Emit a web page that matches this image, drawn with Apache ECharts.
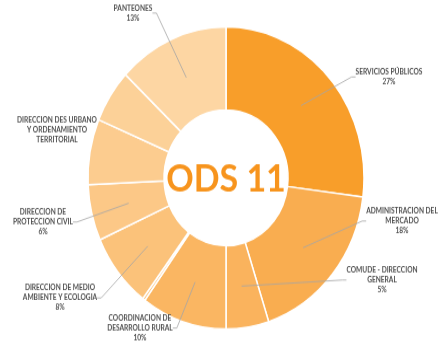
<!DOCTYPE html>
<html>
<head>
<meta charset="utf-8">
<script src="https://cdn.jsdelivr.net/npm/echarts@6/dist/echarts.min.js"></script>
<style>
  html, body { margin: 0; padding: 0; background: #fff; overflow: hidden; }
  #wrap { width: 438px; height: 347px; overflow: hidden; }
  /* chart is drawn a little shorter and stretched vertically into an oval donut */
  #chart { width: 438px; height: 317px; transform: scaleY(1.0946); transform-origin: 0 0; }
</style>
</head>
<body>
<div id="wrap"><div id="chart"></div></div>
<script>
// Share of ODS 11 actions by department (percent)
const categories = [
  'SERVICIOS PÚBLICOS',
  'ADMINISTRACION DEL\nMERCADO',
  'COMUDE - DIRECCION\nGENERAL',
  'COORDINACION DE\nDESARROLLO RURAL',
  'OTRAS ÁREAS',
  'DIRECCION DE MEDIO\nAMBIENTE Y ECOLOGIA',
  'DIRECCION DE\nPROTECCION CIVIL',
  'DIRECCION DES URBANO\nY ORDENAMIENTO\nTERRITORIAL',
  'OTRAS DIRECCIONES',
  'PANTEONES'
];
const values = [27, 18, 5, 10, 0.3, 8, 6, 7, 5.7, 13];
const showPercent = [true, true, true, true, false, true, true, false, false, true];
const showLabel = [true, true, true, true, false, true, true, true, false, true];
const showLeader = [true, true, true, true, false, true, true, false, false, true];

const sliceColors = ['#F89E2A', '#F9AD50', '#FAB35D', '#FAB662', '#FBBF74', '#FBC27A',
                     '#FCC887', '#FCCC8F', '#FCD198', '#FDD6A3'];
// label block anchors (centre x, middle y) in chart pixels
const labelAnchors = [[389, 70.3], [402, 201.9], [382, 255.8], [140, 299.7], null,
                      [60, 272.2], [43, 202.8], [57, 118.8], null, [133, 11.9]];

const CENTER = [226, 162.6];

const ringData = categories.map((name, i) => ({
  name, value: values[i], itemStyle: { color: sliceColors[i] }
}));

const labelData = categories.map((name, i) => ({
  name, value: values[i],
  label: { show: showLabel[i] },
  labelLine: { show: showLeader[i] }
}));

const chart = echarts.init(document.getElementById('chart'), null, { renderer: 'canvas' });
chart.setOption({
  animation: false,
  graphic: [{
    type: 'text',
    x: CENTER[0], y: CENTER[1] + 1,
    z: 100,
    style: {
      text: 'ODS 11',
      fill: '#F7941D',
      font: 'bold 34px Lato',
      textAlign: 'center',
      textVerticalAlign: 'middle'
    }
  }],
  series: [
    {
      type: 'pie',
      silent: true,
      center: CENTER,
      radius: [62, 138],
      startAngle: 90,
      clockwise: true,
      avoidLabelOverlap: false,
      itemStyle: { borderColor: '#ffffff', borderWidth: 1.5 },
      label: { show: false },
      labelLine: { show: false },
      data: ringData
    },
    {
      // transparent inner ring carrying the labels so leader lines reach into the slices
      type: 'pie',
      silent: true,
      z: 5,
      center: CENTER,
      radius: [62, 100],
      startAngle: 90,
      clockwise: true,
      avoidLabelOverlap: false,
      itemStyle: { color: 'rgba(0,0,0,0)', borderWidth: 0 },
      label: {
        position: 'outer',
        alignTo: 'none',
        color: '#4F4F4F',
        fontFamily: 'Lato',
        fontWeight: 'bold',
        fontSize: 6.6,
        lineHeight: 9,
        align: 'center',
        formatter: p => showPercent[p.dataIndex] ? p.name + '\n' + p.value + '%' : p.name
      },
      labelLine: {
        show: true,
        length: 5,
        length2: 4,
        lineStyle: { color: '#A6A6A6', width: 0.8 }
      },
      labelLayout: params => {
        const a = labelAnchors[params.dataIndex];
        return a ? { x: a[0], y: a[1], align: 'center', verticalAlign: 'middle' } : {};
      },
      data: labelData
    }
  ]
});
</script>
</body>
</html>
